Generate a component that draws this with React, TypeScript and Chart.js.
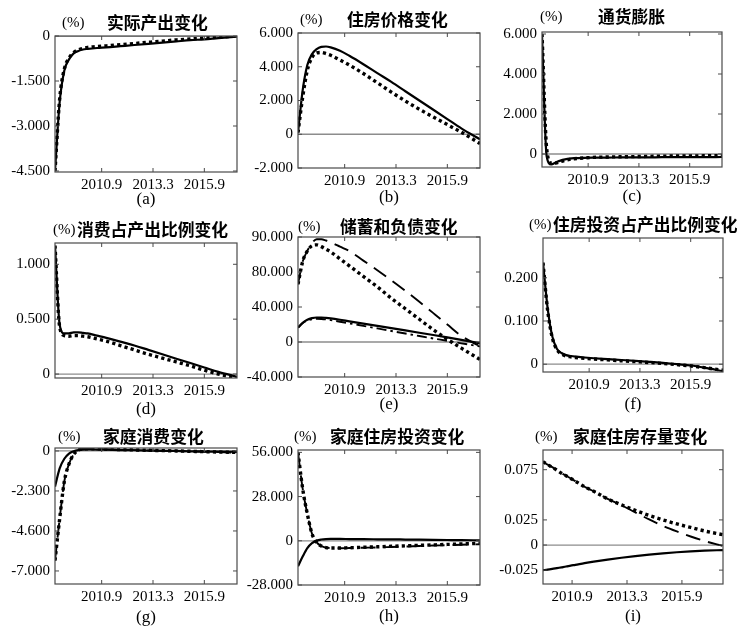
import React, { useEffect, useRef } from "react";
import { Chart, registerables } from "chart.js";

Chart.register(...registerables);

// Quarter index of every sample (horizontal axis runs from quarter 1 to 40)
const PERIODS = [1, 2, 3, 4, 5, 6, 7, 8, 10, 12, 15, 18, 21, 24, 27, 30, 33, 36, 40];
const X_TICKS = [11, 22, 33];
const X_TICKS_I = [7.3, 19.2, 31.1];
const X_LABELS = ["2010.9", "2013.3", "2015.9"];

// (a) 实际产出变化
const A_SOLID = [-4.5, -2.2, -1.15, -0.78, -0.58, -0.5, -0.45, -0.43, -0.4, -0.38, -0.34, -0.3, -0.26, -0.22, -0.18, -0.14, -0.11, -0.07, -0.02];
const A_DOT = [-4.5, -2.1, -1.1, -0.74, -0.55, -0.46, -0.41, -0.38, -0.35, -0.33, -0.29, -0.25, -0.21, -0.17, -0.13, -0.1, -0.07, -0.04, 0.0];
const A_Y_TICKS = [-4.5, -3, -1.5, 0];
const A_Y_LABELS = ["-4.500", "-3.000", "-1.500", "0"];

// (b) 住房价格变化
const B_SOLID = [0.1, 2.6, 4.1, 4.75, 5.05, 5.18, 5.2, 5.15, 4.95, 4.65, 4.15, 3.62, 3.1, 2.55, 2.0, 1.45, 0.9, 0.35, -0.3];
const B_DOT = [0.1, 2.2, 3.8, 4.55, 4.82, 4.85, 4.78, 4.68, 4.4, 4.1, 3.6, 3.05, 2.5, 1.97, 1.48, 1.02, 0.57, 0.12, -0.55];
const B_Y_TICKS = [-2, 0, 2, 4, 6];
const B_Y_LABELS = ["-2.000", "0", "2.000", "4.000", "6.000"];

// (c) 通货膨胀
const C_SOLID = [6.0, -0.1, -0.52, -0.42, -0.33, -0.27, -0.23, -0.21, -0.19, -0.18, -0.18, -0.17, -0.17, -0.17, -0.16, -0.16, -0.16, -0.16, -0.15];
const C_DOT = [6.0, 0.3, -0.45, -0.45, -0.38, -0.32, -0.27, -0.24, -0.2, -0.17, -0.15, -0.14, -0.13, -0.12, -0.11, -0.1, -0.1, -0.09, -0.08];
const C_Y_TICKS = [0, 2, 4, 6];
const C_Y_LABELS = ["0", "2.000", "4.000", "6.000"];

// (d) 消费占产出比例变化
const D_SOLID = [1.17, 0.45, 0.37, 0.37, 0.38, 0.38, 0.375, 0.37, 0.35, 0.33, 0.295, 0.26, 0.22, 0.18, 0.14, 0.1, 0.06, 0.02, -0.025];
const D_DOT = [1.17, 0.43, 0.35, 0.345, 0.35, 0.35, 0.345, 0.34, 0.32, 0.3, 0.26, 0.22, 0.18, 0.145, 0.11, 0.075, 0.035, 0.0, -0.035];
const D_Y_TICKS = [0, 0.5, 1];
const D_Y_LABELS = ["0", "0.500", "1.000"];

// (e) 储蓄和负债变化
const E_DOT = [66, 92, 104, 110, 111, 109, 106, 103, 95, 87, 75, 63, 50, 38, 26, 14, 3, -7, -20];
const E_DASH = [66, 92, 104, 113, 117.5, 117.5, 116, 114, 109, 104, 93, 82, 70.5, 58.5, 46, 33, 20, 7, -5];
const E_SOLID = [16.5, 22, 25.5, 27.3, 28, 28, 27.6, 27, 25.4, 23.6, 21, 18.4, 15.8, 13.2, 10.6, 8, 5.3, 2.5, -1.5];
const E_DASHDOT = [16.5, 21.5, 24.5, 26, 26.5, 26.3, 25.8, 25, 23.2, 21.3, 18.4, 15.5, 12.6, 9.7, 6.8, 4, 1.3, -1.5, -5];
const E_Y_TICKS = [-40, 0, 40, 80, 120];
const E_Y_LABELS = ["-40.000", "0", "40.000", "80.000", "90.000"];

// (f) 住房投资占产出比例变化
const F_SOLID = [0.235, 0.13, 0.065, 0.036, 0.026, 0.021, 0.019, 0.0175, 0.0155, 0.0138, 0.0118, 0.0098, 0.0078, 0.0055, 0.003, 0.0, -0.003, -0.008, -0.016];
const F_DOT = [0.235, 0.125, 0.062, 0.034, 0.024, 0.019, 0.017, 0.0155, 0.0135, 0.012, 0.01, 0.008, 0.006, 0.004, 0.0015, -0.001, -0.004, -0.008, -0.014];
const F_Y_TICKS = [0, 0.1, 0.2];
const F_Y_LABELS = ["0", "0.100", "0.200"];

// (g) 家庭消费变化
const G_SOLID = [-2.05, -1.0, -0.45, -0.15, -0.02, 0.05, 0.08, 0.09, 0.08, 0.07, 0.05, 0.04, 0.02, 0.01, 0.0, -0.02, -0.03, -0.04, -0.05];
const G_DOT = [-6.3, -3.9, -1.75, -0.75, -0.2, 0.05, 0.12, 0.13, 0.12, 0.1, 0.08, 0.06, 0.04, 0.02, 0.0, -0.02, -0.04, -0.06, -0.08];
const G_DASH = [-6.3, -3.9, -1.75, -0.75, -0.2, 0.05, 0.12, 0.13, 0.12, 0.1, 0.07, 0.05, 0.03, 0.01, -0.01, -0.03, -0.05, -0.07, -0.1];
const G_Y_TICKS = [-6.9, -4.6, -2.3, 0];
const G_Y_LABELS = ["-7.000", "-4.600", "-2.300", "0"];

// (h) 家庭住房投资变化
const H_SOLID = [-16.2, -10, -4.6, -1.5, 0.1, 0.8, 1.1, 1.2, 1.2, 1.1, 1.0, 0.95, 0.9, 0.8, 0.7, 0.6, 0.5, 0.4, 0.3];
const H_DOT = [56, 33, 17, 4.5, -1, -3.3, -4.3, -4.6, -4.6, -4.4, -4.1, -3.8, -3.5, -3.2, -2.9, -2.6, -2.3, -2.0, -1.6];
const H_DASH = [56, 33, 17, 4.5, -1, -3.3, -4.3, -4.6, -4.7, -4.6, -4.4, -4.2, -3.9, -3.6, -3.3, -3.0, -2.8, -2.5, -2.2];
const H_Y_TICKS = [-28, 0, 28, 56];
const H_Y_LABELS = ["-28.000", "0", "28.000", "56.000"];

// (i) 家庭住房存量变化
const I_DOT = [0.083, 0.08, 0.0775, 0.0745, 0.0715, 0.069, 0.0663, 0.0636, 0.058, 0.0535, 0.046, 0.04, 0.0345, 0.0295, 0.025, 0.021, 0.0175, 0.014, 0.0103];
const I_DASH = [0.083, 0.08, 0.0775, 0.0745, 0.0715, 0.069, 0.0663, 0.0636, 0.058, 0.0535, 0.046, 0.0395, 0.0325, 0.0255, 0.019, 0.0135, 0.0085, 0.004, -0.001];
const I_SOLID = [-0.025, -0.0245, -0.0238, -0.023, -0.0222, -0.0214, -0.0205, -0.0197, -0.018, -0.0165, -0.0145, -0.0127, -0.0111, -0.0096, -0.0083, -0.0072, -0.0063, -0.0056, -0.005];
const I_Y_TICKS = [-0.025, 0, 0.025, 0.075];
const I_Y_LABELS = ["-0.025", "0", "0.025", "0.075"];

const SERIF = "'Liberation Serif', 'Times New Roman', serif";
const CJK = "'Noto Sans CJK SC', 'Noto Sans', sans-serif";
const INK = "#000000";

type LineStyle = "solid" | "dot" | "dash" | "dashdot";

const LINE_LOOK: Record<LineStyle, { borderWidth: number; borderDash: number[] }> = {
  solid: { borderWidth: 2.2, borderDash: [] },
  dot: { borderWidth: 3.4, borderDash: [3.2, 3.2] },
  dash: { borderWidth: 1.9, borderDash: [15, 8] },
  dashdot: { borderWidth: 1.9, borderDash: [10, 4, 2.5, 4] },
};

interface PanelSpec {
  title: string;
  tag: string;
  box: [number, number, number, number]; // left, top, right, bottom of the plot frame on the page
  head: [number, number, number]; // x of "(%)", x of the title, vertical centre
  tagGap: number; // distance from the frame bottom to the centre of the "(a)" tag
  yRange: [number, number];
  yTicks: number[];
  yLabels: string[];
  xTicks: number[];
  series: { values: number[]; style: LineStyle }[];
}

const PANELS: PanelSpec[] = [
  {
    title: "实际产出变化", tag: "(a)", box: [55, 36, 237, 172], head: [62, 107, 23], tagGap: 28,
    yRange: [-4.533, 0], yTicks: A_Y_TICKS, yLabels: A_Y_LABELS, xTicks: X_TICKS,
    series: [{ values: A_SOLID, style: "solid" }, { values: A_DOT, style: "dot" }],
  },
  {
    title: "住房价格变化", tag: "(b)", box: [298, 33, 480, 168], head: [300, 347, 20], tagGap: 30,
    yRange: [-2, 6], yTicks: B_Y_TICKS, yLabels: B_Y_LABELS, xTicks: X_TICKS,
    series: [{ values: B_SOLID, style: "solid" }, { values: B_DOT, style: "dot" }],
  },
  {
    title: "通货膨胀", tag: "(c)", box: [542, 32, 722, 167], head: [540, 598, 17], tagGap: 30,
    yRange: [-0.65, 6.1], yTicks: C_Y_TICKS, yLabels: C_Y_LABELS, xTicks: X_TICKS,
    series: [{ values: C_SOLID, style: "solid" }, { values: C_DOT, style: "dot" }],
  },
  {
    title: "消费占产出比例变化", tag: "(d)", box: [55, 243, 237, 378], head: [53, 77, 230], tagGap: 32,
    yRange: [-0.036, 1.194], yTicks: D_Y_TICKS, yLabels: D_Y_LABELS, xTicks: X_TICKS,
    series: [{ values: D_SOLID, style: "solid" }, { values: D_DOT, style: "dot" }],
  },
  {
    title: "储蓄和负债变化", tag: "(e)", box: [298, 237, 480, 377], head: [298, 340, 227], tagGap: 28,
    yRange: [-40, 120], yTicks: E_Y_TICKS, yLabels: E_Y_LABELS, xTicks: X_TICKS,
    series: [
      { values: E_SOLID, style: "solid" },
      { values: E_DASHDOT, style: "dashdot" },
      { values: E_DOT, style: "dot" },
      { values: E_DASH, style: "dash" },
    ],
  },
  {
    title: "住房投资占产出比例变化", tag: "(f)", box: [543, 238, 723, 372], head: [529, 553, 225], tagGap: 33,
    yRange: [-0.018, 0.292], yTicks: F_Y_TICKS, yLabels: F_Y_LABELS, xTicks: X_TICKS,
    series: [{ values: F_SOLID, style: "solid" }, { values: F_DOT, style: "dot" }],
  },
  {
    title: "家庭消费变化", tag: "(g)", box: [55, 448, 237, 584], head: [58, 103, 437], tagGap: 34,
    yRange: [-7.65, 0.17], yTicks: G_Y_TICKS, yLabels: G_Y_LABELS, xTicks: X_TICKS,
    series: [
      { values: G_SOLID, style: "solid" },
      { values: G_DOT, style: "dot" },
      { values: G_DASH, style: "dash" },
    ],
  },
  {
    title: "家庭住房投资变化", tag: "(h)", box: [298, 450, 480, 585], head: [294, 330, 437], tagGap: 32,
    yRange: [-28, 57.5], yTicks: H_Y_TICKS, yLabels: H_Y_LABELS, xTicks: X_TICKS,
    series: [
      { values: H_SOLID, style: "solid" },
      { values: H_DOT, style: "dot" },
      { values: H_DASH, style: "dash" },
    ],
  },
  {
    title: "家庭住房存量变化", tag: "(i)", box: [543, 450, 723, 584], head: [535, 573, 437], tagGap: 33,
    yRange: [-0.0388, 0.0946], yTicks: I_Y_TICKS, yLabels: I_Y_LABELS, xTicks: X_TICKS_I,
    series: [
      { values: I_SOLID, style: "solid" },
      { values: I_DOT, style: "dot" },
      { values: I_DASH, style: "dash" },
    ],
  },
];

// Space reserved around each plot frame inside its canvas
const PAD_L = 54;
const PAD_T = 40;
const PAD_R = 24;
const PAD_B = 44;

// "(%)" unit plus the panel heading, drawn above the frame
const headerPlugin = {
  id: "panelHeader",
  afterDraw(chart: any, _args: any, opts: any) {
    const { ctx } = chart;
    ctx.save();
    ctx.fillStyle = INK;
    ctx.textBaseline = "middle";
    ctx.textAlign = "left";
    ctx.font = `15px ${SERIF}`;
    ctx.fillText("(%)", opts.unitX, opts.y);
    ctx.font = `bold 16.8px ${CJK}`;
    ctx.fillText(opts.text, opts.textX, opts.y);
    ctx.restore();
  },
};

// Boxed frame with short inward tick marks on all four sides
const framePlugin = {
  id: "panelFrame",
  afterDatasetsDraw(chart: any) {
    const { ctx, chartArea, scales } = chart;
    const { left, top, right, bottom } = chartArea;
    ctx.save();
    ctx.strokeStyle = "#4a4a4a";
    ctx.lineWidth = 1.2;
    ctx.strokeRect(left, top, right - left, bottom - top);
    ctx.lineWidth = 1;
    ctx.beginPath();
    for (const t of scales.x.ticks) {
      const px = scales.x.getPixelForValue(t.value);
      ctx.moveTo(px, bottom);
      ctx.lineTo(px, bottom - 4);
      ctx.moveTo(px, top);
      ctx.lineTo(px, top + 4);
    }
    for (const t of scales.y.ticks) {
      const py = scales.y.getPixelForValue(t.value);
      ctx.moveTo(left, py);
      ctx.lineTo(left + 4, py);
      ctx.moveTo(right, py);
      ctx.lineTo(right - 4, py);
    }
    ctx.stroke();
    ctx.restore();
  },
};

function Panel({ spec }: { spec: PanelSpec }) {
  const ref = useRef<HTMLCanvasElement>(null);
  const [L, T, R, B] = spec.box;
  const width = R - L + PAD_L + PAD_R;
  const height = B - T + PAD_T + PAD_B;
  const ox = L - PAD_L;
  const oy = T - PAD_T;

  useEffect(() => {
    if (!ref.current) return;
    const datasets: any[] = spec.series.map((s) => ({
      data: PERIODS.map((p, i) => ({ x: p, y: s.values[i] })),
      borderColor: INK,
      borderWidth: LINE_LOOK[s.style].borderWidth,
      borderDash: LINE_LOOK[s.style].borderDash,
      borderCapStyle: "butt",
      cubicInterpolationMode: "monotone",
      pointRadius: 0,
      fill: false,
    }));
    // zero reference line, drawn underneath the series
    datasets.push({
      data: [
        { x: 1, y: 0 },
        { x: 40, y: 0 },
      ],
      borderColor: "#8c8c8c",
      borderWidth: 1.3,
      pointRadius: 0,
      fill: false,
    });

    const chart = new Chart(ref.current, {
      type: "line",
      data: { datasets },
      plugins: [headerPlugin, framePlugin],
      options: {
        responsive: false,
        animation: false,
        devicePixelRatio: 1,
        layout: { padding: { left: 0, top: PAD_T, right: PAD_R, bottom: 0 } },
        plugins: {
          legend: { display: false },
          tooltip: { enabled: false },
          title: { display: false },
          panelHeader: {
            text: spec.title,
            unitX: spec.head[0] - ox,
            textX: spec.head[1] - ox,
            y: spec.head[2] - oy,
          },
        } as any,
        scales: {
          x: {
            type: "linear",
            min: 1,
            max: 40,
            grid: { display: false, drawTicks: false },
            border: { display: false },
            afterBuildTicks: (scale: any) => {
              scale.ticks = spec.xTicks.map((v) => ({ value: v }));
            },
            afterFit: (scale: any) => {
              scale.height = PAD_B;
            },
            ticks: {
              callback: (_v: any, i: number) => X_LABELS[i],
              font: { family: SERIF, size: 15 },
              color: INK,
              padding: 4,
              maxRotation: 0,
              autoSkip: false,
            },
            title: {
              display: true,
              text: spec.tag,
              font: { family: SERIF, size: 17 },
              color: INK,
              padding: { top: 0, bottom: 33.8 - spec.tagGap },
            },
          },
          y: {
            type: "linear",
            min: spec.yRange[0],
            max: spec.yRange[1],
            grid: { display: false, drawTicks: false },
            border: { display: false },
            afterBuildTicks: (scale: any) => {
              scale.ticks = spec.yTicks.map((v) => ({ value: v }));
            },
            afterFit: (scale: any) => {
              scale.width = PAD_L;
            },
            ticks: {
              callback: (_v: any, i: number) => spec.yLabels[i],
              font: { family: SERIF, size: 15 },
              color: INK,
              padding: 5,
              autoSkip: false,
            },
          },
        },
      } as any,
    });
    return () => chart.destroy();
  }, [spec]);

  return (
    <canvas
      ref={ref}
      width={width}
      height={height}
      style={{ position: "absolute", left: ox, top: oy, width, height }}
    />
  );
}

export default function App() {
  return (
    <div
      style={{
        position: "fixed",
        left: 0,
        top: 0,
        width: 745,
        height: 627,
        background: "#ffffff",
        overflow: "hidden",
      }}
    >
      {PANELS.map((p) => (
        <Panel key={p.tag} spec={p} />
      ))}
    </div>
  );
}
